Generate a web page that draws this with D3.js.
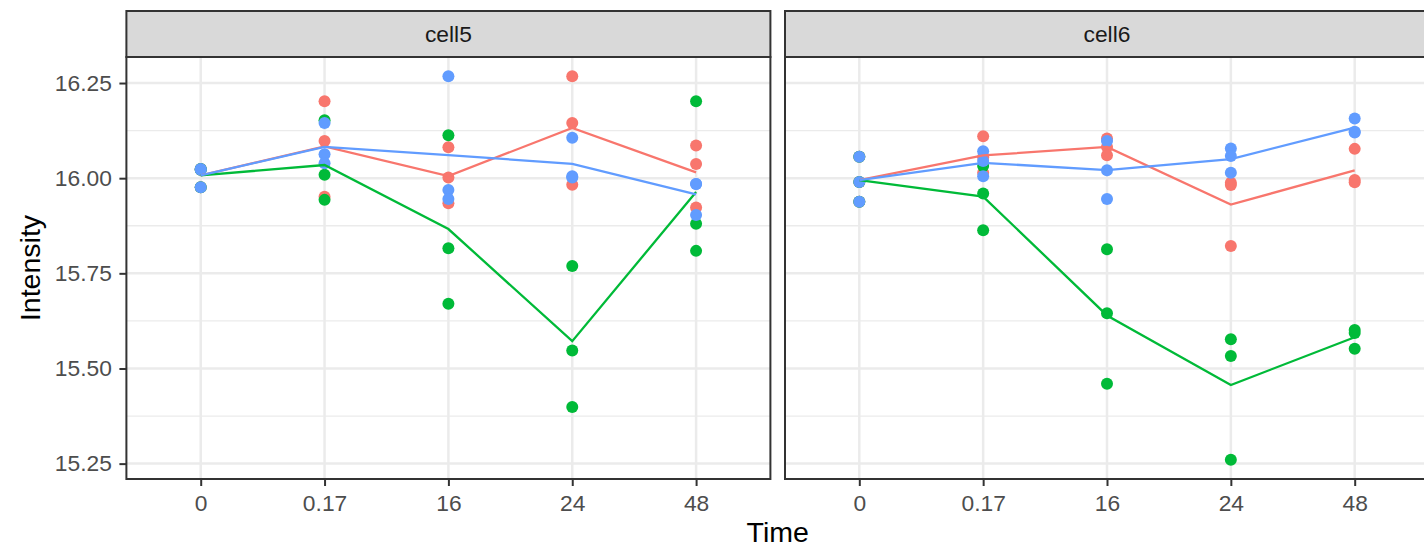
<!DOCTYPE html>
<html>
<head>
<meta charset="utf-8">
<script src="https://cdn.jsdelivr.net/npm/d3@7"></script>
<style>
  html, body { margin: 0; padding: 0; background: #fff; overflow: hidden; }
  svg { display: block; font-family: "Liberation Sans", Arial, Helvetica, sans-serif; }
</style>
</head>
<body>
<script>
// ---------------- data ----------------
const times = ["0", "0.17", "16", "24", "48"];
const facets = ["cell5", "cell6"];
const seriesNames = ["grp1", "grp2", "grp3"];
const seriesColors = ["#F8766D", "#00BA38", "#619CFF"];
const yTicks = [15.25, 15.5, 15.75, 16.0, 16.25];
const yMinorTicks = [15.375, 15.625, 15.875, 16.125];

// replicate values per time point (3 replicates each)
const cell5_grp1 = [[16.024, 16.022, 15.976], [16.202, 16.098, 15.951], [16.081, 16.002, 15.934], [16.268, 16.145, 15.983], [16.086, 16.037, 15.923]];
const cell5_grp2 = [[16.024, 16.022, 15.976], [16.152, 16.009, 15.943], [16.113, 15.816, 15.670], [15.769, 15.547, 15.399], [16.202, 15.880, 15.809]];
const cell5_grp3 = [[16.024, 16.022, 15.976], [16.145, 16.063, 16.039], [16.268, 15.969, 15.945], [16.106, 16.005, 16.002], [15.985, 15.985, 15.903]];

const cell6_grp1 = [[16.056, 15.990, 15.938], [16.110, 16.055, 16.014], [16.104, 16.082, 16.060], [15.988, 15.982, 15.822], [16.077, 15.995, 15.989]];
const cell6_grp2 = [[16.056, 15.990, 15.938], [16.032, 15.960, 15.863], [15.813, 15.645, 15.460], [15.577, 15.533, 15.260], [15.601, 15.593, 15.552]];
const cell6_grp3 = [[16.056, 15.990, 15.938], [16.071, 16.045, 16.005], [16.098, 16.021, 15.945], [16.078, 16.058, 16.014], [16.157, 16.122, 16.120]];

const facetData = {
  cell5: [cell5_grp1, cell5_grp2, cell5_grp3],
  cell6: [cell6_grp1, cell6_grp2, cell6_grp3]
};

// ---------------- layout ----------------
const W = 1424, H = 554;
const stripTop = 11, panelTop = 57, panelBottom = 479;
const panelW = 644;
const panelLefts = [126.4, 785];
const tickFont = 22.8, titleFont = 28.5;

const svg = d3.select("body").append("svg").attr("width", W).attr("height", H);

const allVals = [];
facets.forEach(f => facetData[f].forEach(s => s.forEach(r => r.forEach(v => allVals.push(v)))));
const lo = d3.min(allVals), hi = d3.max(allVals), rng = hi - lo;
const y = d3.scaleLinear().domain([lo - 0.05 * rng, hi + 0.05 * rng]).range([panelBottom, panelTop]);

facets.forEach((f, fi) => {
  const g = svg.append("g").attr("transform", `translate(${panelLefts[fi]},0)`);
  const x = d3.scalePoint().domain(times).range([0, panelW]).padding(0.6);

  // background
  g.append("rect").attr("x", 0).attr("y", panelTop).attr("width", panelW).attr("height", panelBottom - panelTop).attr("fill", "#fff");

  // grid
  g.selectAll(".ymin").data(yMinorTicks).enter().append("line")
    .attr("x1", 0).attr("x2", panelW).attr("y1", d => y(d)).attr("y2", d => y(d))
    .attr("stroke", "#EBEBEB").attr("stroke-width", 1.3);
  g.selectAll(".ymaj").data(yTicks).enter().append("line")
    .attr("x1", 0).attr("x2", panelW).attr("y1", d => y(d)).attr("y2", d => y(d))
    .attr("stroke", "#EBEBEB").attr("stroke-width", 2.5);
  g.selectAll(".xmaj").data(times).enter().append("line")
    .attr("x1", d => x(d)).attr("x2", d => x(d)).attr("y1", panelTop).attr("y2", panelBottom)
    .attr("stroke", "#EBEBEB").attr("stroke-width", 2.5);

  const series = facetData[f];
  // points
  series.forEach((s, si) => {
    const pts = [];
    s.forEach((reps, ti) => reps.forEach(v => pts.push({ t: times[ti], v })));
    g.append("g").selectAll("circle").data(pts).enter().append("circle")
      .attr("cx", d => x(d.t)).attr("cy", d => y(d.v)).attr("r", 6)
      .attr("fill", seriesColors[si]);
  });
  // mean lines
  const line = d3.line().x(d => x(d.t)).y(d => y(d.m));
  series.forEach((s, si) => {
    const means = s.map((reps, ti) => ({ t: times[ti], m: d3.mean(reps) }));
    g.append("path").datum(means).attr("d", line)
      .attr("fill", "none").attr("stroke", seriesColors[si]).attr("stroke-width", 2.3);
  });

  // border
  g.append("rect").attr("x", 0).attr("y", panelTop).attr("width", panelW).attr("height", panelBottom - panelTop)
    .attr("fill", "none").attr("stroke", "#333333").attr("stroke-width", 2);

  // strip
  g.append("rect").attr("x", 0).attr("y", stripTop).attr("width", panelW).attr("height", panelTop - stripTop)
    .attr("fill", "#D9D9D9").attr("stroke", "#333333").attr("stroke-width", 2);
  g.append("text").attr("x", panelW / 2).attr("y", (stripTop + panelTop) / 2).attr("dy", "0.36em")
    .attr("text-anchor", "middle").attr("font-size", tickFont).attr("fill", "#1A1A1A").text(f);

  // x axis
  const ax = g.append("g").attr("transform", `translate(0,${panelBottom})`)
    .call(d3.axisBottom(x).tickSize(7).tickPadding(8.5));
  ax.select(".domain").remove();
  ax.selectAll(".tick line").attr("stroke", "#333333").attr("stroke-width", 2);
  ax.selectAll(".tick text").attr("fill", "#4D4D4D").attr("font-size", tickFont).attr("font-family", null);

  if (fi === 0) {
    const ay = g.append("g").call(d3.axisLeft(y).tickValues(yTicks).tickFormat(d3.format(".2f")).tickSize(7).tickPadding(7.5));
    ay.select(".domain").remove();
    ay.selectAll(".tick line").attr("stroke", "#333333").attr("stroke-width", 2);
    ay.selectAll(".tick text").attr("fill", "#4D4D4D").attr("font-size", tickFont).attr("font-family", null);
  }
});

// axis titles
svg.append("text").attr("transform", "translate(40,268) rotate(-90)").attr("text-anchor", "middle")
  .attr("font-size", titleFont).attr("fill", "#000").text("Intensity");
svg.append("text").attr("x", (panelLefts[0] + panelLefts[1] + panelW) / 2).attr("y", 541.5).attr("text-anchor", "middle")
  .attr("font-size", titleFont).attr("fill", "#000").text("Time");
</script>
</body>
</html>
